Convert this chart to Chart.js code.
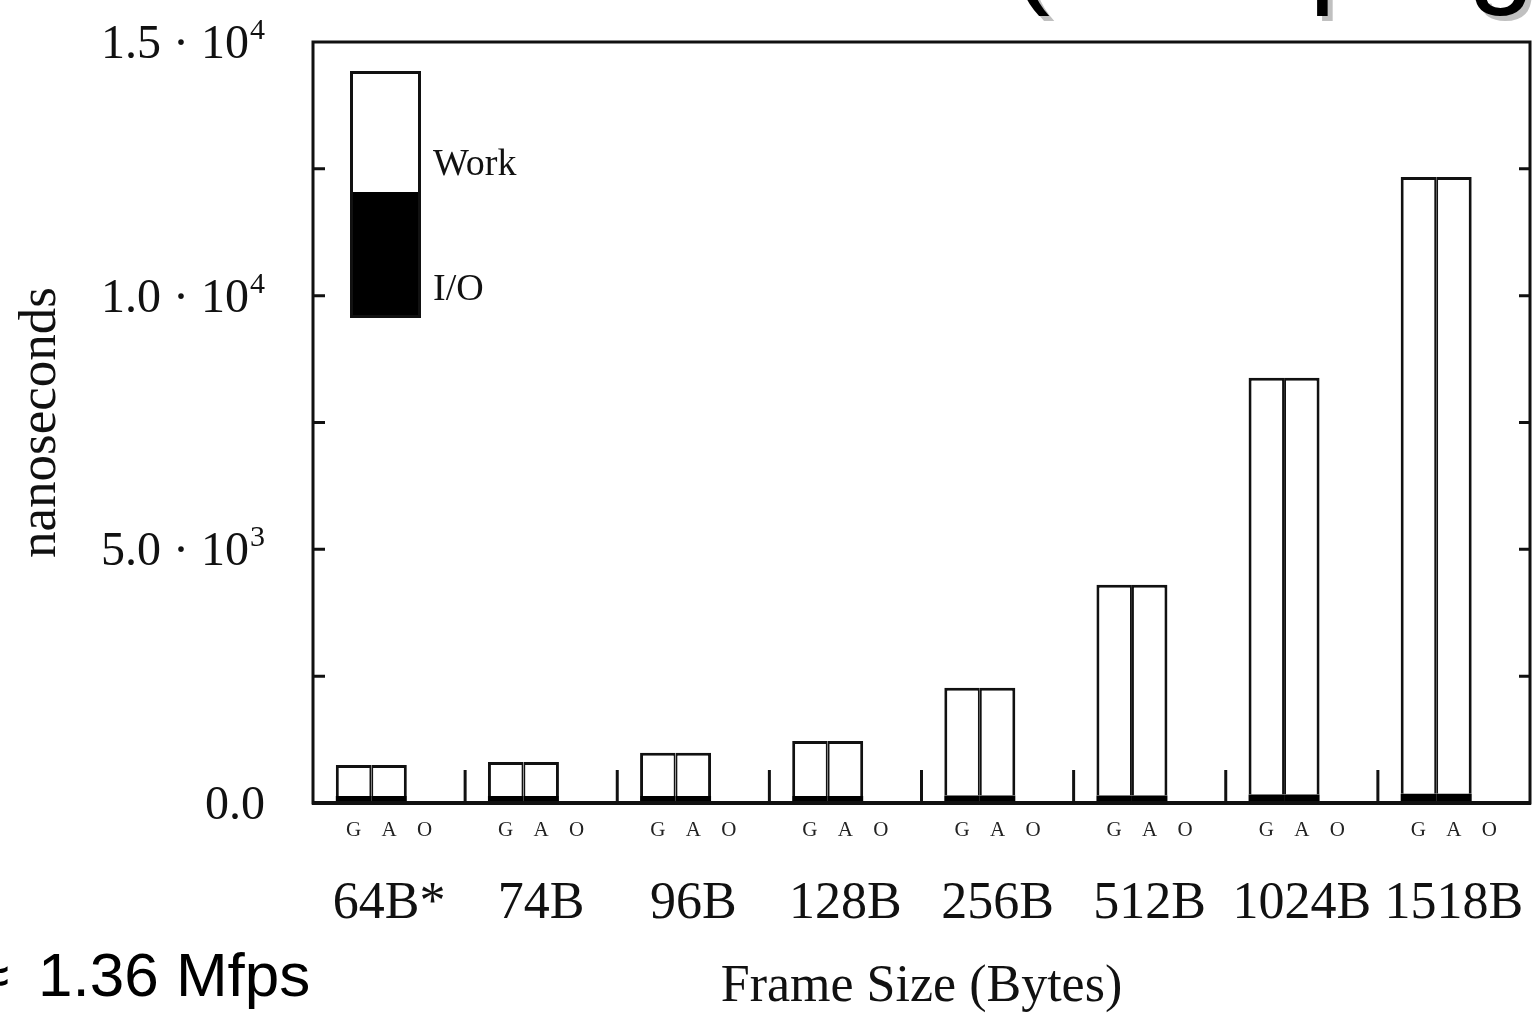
<!DOCTYPE html>
<html><head><meta charset="utf-8">
<script src="https://cdn.jsdelivr.net/npm/chart.js@4"></script>
<style>
html,body{margin:0;padding:0;background:#fff;overflow:hidden;width:1534px;height:1013px}
#wrap{position:absolute;left:0;top:0;width:1534px;height:1013px}
.sl{position:absolute;font-family:"Liberation Sans",Arial,sans-serif;line-height:1;white-space:nowrap;color:#000}
.tt{font-size:120px;top:-111px;text-shadow:5px 5px 0 #c0c0c0}
.ft{font-size:62px;top:944px}
</style></head><body>
<div id="wrap"><canvas id="c"></canvas></div>
<div class="sl tt" style="left:1010px">(</div>
<div class="sl tt" style="left:1309px">p</div>
<div class="sl tt" style="left:1468px">g</div>
<div class="sl ft" style="left:-25px">≈</div>
<div class="sl ft" style="left:38px">1.36 Mfps</div>
<script>
// ---- data ----
const categories = ['64B*', '74B', '96B', '128B', '256B', '512B', '1024B', '1518B'];
const variants = ['G', 'A', 'O'];
const ioG   = [140, 140, 140, 140, 150, 150, 170, 180];
const workG = [610, 670, 850, 1080, 2120, 4150, 8210, 12160];
const ioA   = [140, 140, 140, 140, 150, 150, 170, 180];
const workA = [610, 670, 850, 1080, 2120, 4150, 8210, 12160];
const ioO   = [0, 0, 0, 0, 0, 0, 0, 0];
const workO = [0, 0, 0, 0, 0, 0, 0, 0];
const yTickValues = [0, 5000, 10000, 15000];
const yTickBase = ['0.0', '5.0 \u00B7 10', '1.0 \u00B7 10', '1.5 \u00B7 10'];
const yTickExp = ['', '3', '4', '4'];
const yMinorStep = 2500;
const legendLabels = ['Work', 'I/O'];
const xTitle = 'Frame Size (Bytes)';
const yTitle = 'nanoseconds';

const SERIF = '"Liberation Serif", "Times New Roman", serif';
const INK = '#111';

const workBorderG = {top: 3, left: 3, right: 2, bottom: 0};
const workBorderA = {top: 3, left: 2, right: 3, bottom: 0};

const datasets = [
  {label: 'G I/O', data: ioG, stack: 'G', backgroundColor: '#000', borderWidth: 0},
  {label: 'G Work', data: workG, stack: 'G', backgroundColor: '#fff', borderColor: INK, borderWidth: workBorderG, borderSkipped: false},
  {label: 'A I/O', data: ioA, stack: 'A', backgroundColor: '#000', borderWidth: 0},
  {label: 'A Work', data: workA, stack: 'A', backgroundColor: '#fff', borderColor: INK, borderWidth: workBorderA, borderSkipped: false},
  {label: 'O I/O', data: ioO, stack: 'O', backgroundColor: '#000', borderWidth: 0},
  {label: 'O Work', data: workO, stack: 'O', backgroundColor: '#fff', borderWidth: 0}
];
const workIndex = {G: 1, A: 3, O: 5};

const decor = {
  id: 'decor',
  afterDatasetsDraw(chart) {
    const ctx = chart.ctx, ca = chart.chartArea;
    const xs = chart.scales.x, ys = chart.scales.y;
    ctx.save();
    ctx.strokeStyle = INK;
    ctx.fillStyle = INK;
    // frame
    ctx.lineWidth = 3;
    ctx.strokeRect(ca.left, ca.top, ca.right - ca.left, ca.bottom - ca.top);
    ctx.lineWidth = 4;
    ctx.beginPath(); ctx.moveTo(ca.left - 1, ca.bottom); ctx.lineTo(ca.right + 1, ca.bottom); ctx.stroke();
    // inner ticks both sides
    ctx.lineWidth = 3;
    for (let v = yMinorStep; v < ys.max; v += yMinorStep) {
      const y = ys.getPixelForValue(v);
      ctx.beginPath();
      ctx.moveTo(ca.left, y); ctx.lineTo(ca.left + 12, y);
      ctx.moveTo(ca.right, y); ctx.lineTo(ca.right - 11, y);
      ctx.stroke();
    }
    // group separators
    for (let i = 0; i < categories.length - 1; i++) {
      const x = (xs.getPixelForValue(i) + xs.getPixelForValue(i + 1)) / 2;
      ctx.beginPath(); ctx.moveTo(x, ca.bottom); ctx.lineTo(x, ca.bottom - 33); ctx.stroke();
    }
    // G A O letters
    ctx.font = '21px ' + SERIF;
    ctx.textAlign = 'center'; ctx.textBaseline = 'middle';
    ctx.fillStyle = '#222';
    variants.forEach(v => {
      const meta = chart.getDatasetMeta(workIndex[v]);
      meta.data.forEach(el => ctx.fillText(v, el.x, ca.bottom + 27));
    });
    // y tick labels with superscripts
    ctx.fillStyle = INK;
    ctx.textAlign = 'right'; ctx.textBaseline = 'alphabetic';
    yTickValues.forEach((v, i) => {
      const y = ys.getPixelForValue(v);
      let right = ca.left - 48;
      if (yTickExp[i]) {
        ctx.font = '30px ' + SERIF;
        ctx.fillText(yTickExp[i], right, y + 16 - 19);
        right -= ctx.measureText(yTickExp[i]).width + 1;
      }
      ctx.font = '48px ' + SERIF;
      ctx.fillText(yTickBase[i], right, y + 16);
    });
    // legend
    const L = ca.left + 37, T = ca.top + 29, W = 71, H = 247, split = 121;
    ctx.fillStyle = '#000';
    ctx.fillRect(L, T + split, W, H - split);
    ctx.lineWidth = 3; ctx.strokeStyle = INK;
    ctx.strokeRect(L + 1.5, T + 1.5, W - 3, H - 3);
    ctx.fillStyle = INK;
    ctx.font = '38px ' + SERIF;
    ctx.textAlign = 'left'; ctx.textBaseline = 'middle';
    ctx.fillText(legendLabels[0], L + W + 12, T + 94);
    ctx.fillText(legendLabels[1], L + W + 12, T + 219);
    ctx.restore();
  }
};

new Chart(document.getElementById('c'), {
  type: 'bar',
  data: {labels: categories, datasets},
  options: {
    responsive: true, maintainAspectRatio: false, animation: false,
    devicePixelRatio: 1,
    layout: {padding: {top: 42, right: 4, left: 0, bottom: 0}},
    categoryPercentage: 0.70, barPercentage: 1.0,
    plugins: {legend: {display: false}, tooltip: {enabled: false}},
    scales: {
      x: {
        stacked: true,
        grid: {display: false, drawTicks: false},
        border: {display: false},
        ticks: {color: INK, font: {family: SERIF, size: 52}, padding: 70, autoSkip: false, maxRotation: 0, minRotation: 0},
        title: {display: true, text: xTitle, color: INK, font: {family: SERIF, size: 52, lineHeight: 1}, padding: {top: 0, bottom: 0}},
        afterFit: s => { s.height = 210; s.paddingLeft = 0; s.paddingRight = 0; }
      },
      y: {
        stacked: true, min: 0, max: 15000,
        grid: {display: false, drawTicks: false},
        border: {display: false},
        ticks: {display: false, stepSize: yMinorStep},
        title: {display: true, text: yTitle, color: INK, font: {family: SERIF, size: 53, lineHeight: 1}, padding: {top: 15, bottom: 0}},
        afterFit: s => { s.width = 313; }
      }
    }
  },
  plugins: [decor]
});
</script>
</body></html>
